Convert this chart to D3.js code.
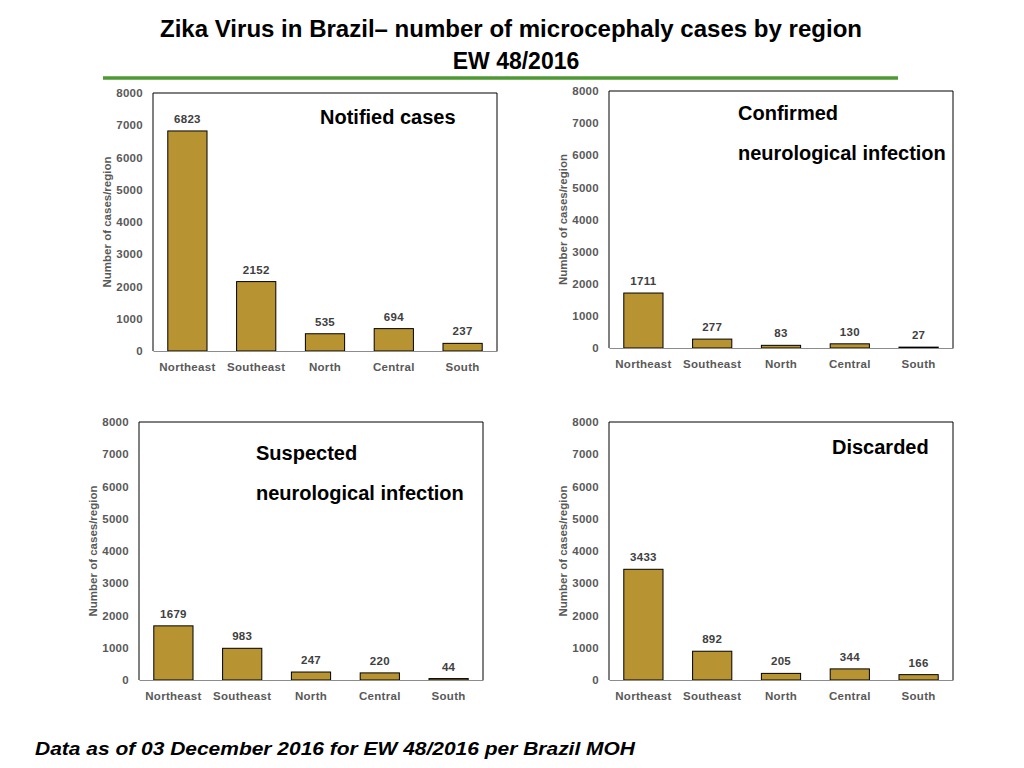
<!DOCTYPE html>
<html><head><meta charset="utf-8">
<script src="https://cdn.jsdelivr.net/npm/d3@7"></script>
<style>
body{margin:0;background:#fff;}
svg{display:block;}
.hd{font-family:"Liberation Sans",Arial,Helvetica,sans-serif;}
.chart{font-family:"Liberation Sans",Arial,Helvetica,sans-serif;}
</style></head>
<body>
<svg id="c" width="1024" height="768"></svg>
<script>
const categories = ["Northeast","Southeast","North","Central","South"];
const notified   = [6823, 2152, 535, 694, 237];
const confirmed  = [1711, 277, 83, 130, 27];
const suspected  = [1679, 983, 247, 220, 44];
const discarded  = [3433, 892, 205, 344, 166];
const yTicks     = [0,1000,2000,3000,4000,5000,6000,7000,8000];
const titleLines = ["Zika Virus in Brazil\u2013  number of microcephaly cases by region","EW 48/2016"];
const footnote   = "Data as of 03 December 2016 for EW 48/2016 per Brazil MOH";
const yTitle     = "Number of cases/region";

const panels = [
  {values: notified,  title:["Notified cases"], box:{l:153,t:93,r:497,b:351}, tx:167, ty:[24]},
  {values: confirmed, title:["Confirmed","neurological infection"], box:{l:609,t:91,r:953,b:348}, tx:129, ty:[22,62]},
  {values: suspected, title:["Suspected","neurological infection"], box:{l:139,t:422,r:483,b:680}, tx:117, ty:[31,71]},
  {values: discarded, title:["Discarded"], box:{l:609,t:422,r:953,b:680}, tx:223, ty:[25]}
];

const svg = d3.select("#c");

// Title
svg.append("text").attr("class","hd").attr("x",511).attr("y",37)
  .attr("text-anchor","middle").attr("font-size",23).attr("font-weight","bold").attr("fill","#000")
  .attr("textLength",702).attr("lengthAdjust","spacingAndGlyphs").text(titleLines[0]);
svg.append("text").attr("class","hd").attr("x",516).attr("y",69)
  .attr("text-anchor","middle").attr("font-size",23).attr("font-weight","bold").attr("fill","#000")
  .text(titleLines[1]);
svg.append("line").attr("x1",103).attr("x2",898).attr("y1",78).attr("y2",78)
  .attr("stroke","#4e9a32").attr("stroke-width",3.5);

panels.forEach(p=>{
  const b = p.box;
  const g = svg.append("g").attr("class","chart");
  const x = d3.scaleBand().domain(categories).range([b.l,b.r]).paddingInner(0.43).paddingOuter(0.215);
  const y = d3.scaleLinear().domain([0,8000]).range([b.b,b.t]);

  // box
  g.append("path").attr("d",`M${b.l},${b.b}V${b.t}H${b.r}V${b.b}`).attr("fill","none").attr("stroke","#000").attr("stroke-width",1);

  // y axis
  const ya = g.append("g").attr("transform",`translate(${b.l},0)`)
    .call(d3.axisLeft(y).tickValues(yTicks).tickSize(0).tickPadding(10).tickFormat(d3.format("d")));
  ya.select(".domain").remove();
  ya.selectAll("text").attr("font-size",11.5).attr("font-weight","bold").attr("fill","#595959")
    .attr("font-family","Liberation Sans, Arial, sans-serif").attr("letter-spacing",0.3);

  // bars
  g.selectAll("rect.bar").data(p.values).join("rect").attr("class","bar")
    .attr("x",(d,i)=>x(categories[i])).attr("width",x.bandwidth())
    .attr("y",d=>y(d)).attr("height",d=>y(0)-y(d))
    .attr("fill","#b79431").attr("stroke","#000").attr("stroke-width",1);

  // x axis
  const xa = g.append("g").attr("transform",`translate(0,${b.b})`)
    .call(d3.axisBottom(x).tickSize(0).tickPadding(12));
  xa.select(".domain").attr("stroke","#8c8c8c").attr("stroke-width",1);
  xa.selectAll("text").attr("font-size",11.5).attr("font-weight","bold").attr("fill","#595959")
    .attr("font-family","Liberation Sans, Arial, sans-serif").attr("letter-spacing",0.3);

  // value labels
  g.selectAll("text.val").data(p.values).join("text").attr("class","val")
    .attr("x",(d,i)=>x(categories[i])+x.bandwidth()/2).attr("y",d=>y(d)-8)
    .attr("text-anchor","middle").attr("font-size",11.5).attr("font-weight","bold").attr("fill","#404040")
    .attr("letter-spacing",0.3).text(d=>d);

  // y title
  g.append("text").attr("transform",`translate(${b.l-42},${(b.t+b.b)/2}) rotate(-90)`)
    .attr("text-anchor","middle").attr("font-size",11.5).attr("font-weight","bold").attr("fill","#595959")
    .text(yTitle);

  // panel title
  g.selectAll("text.pt").data(p.title).join("text").attr("class","pt")
    .attr("x",b.l+p.tx).attr("y",(d,i)=>b.t+p.ty[i]+7)
    .attr("font-size",20).attr("font-weight","bold").attr("fill","#000").text(d=>d);
});

// footnote
svg.append("text").attr("class","hd").attr("x",35).attr("y",755)
  .attr("font-size",19).attr("font-weight","bold").attr("font-style","italic").attr("fill","#000")
  .attr("textLength",600).attr("lengthAdjust","spacingAndGlyphs")
  .text(footnote);
</script>
</body></html>
